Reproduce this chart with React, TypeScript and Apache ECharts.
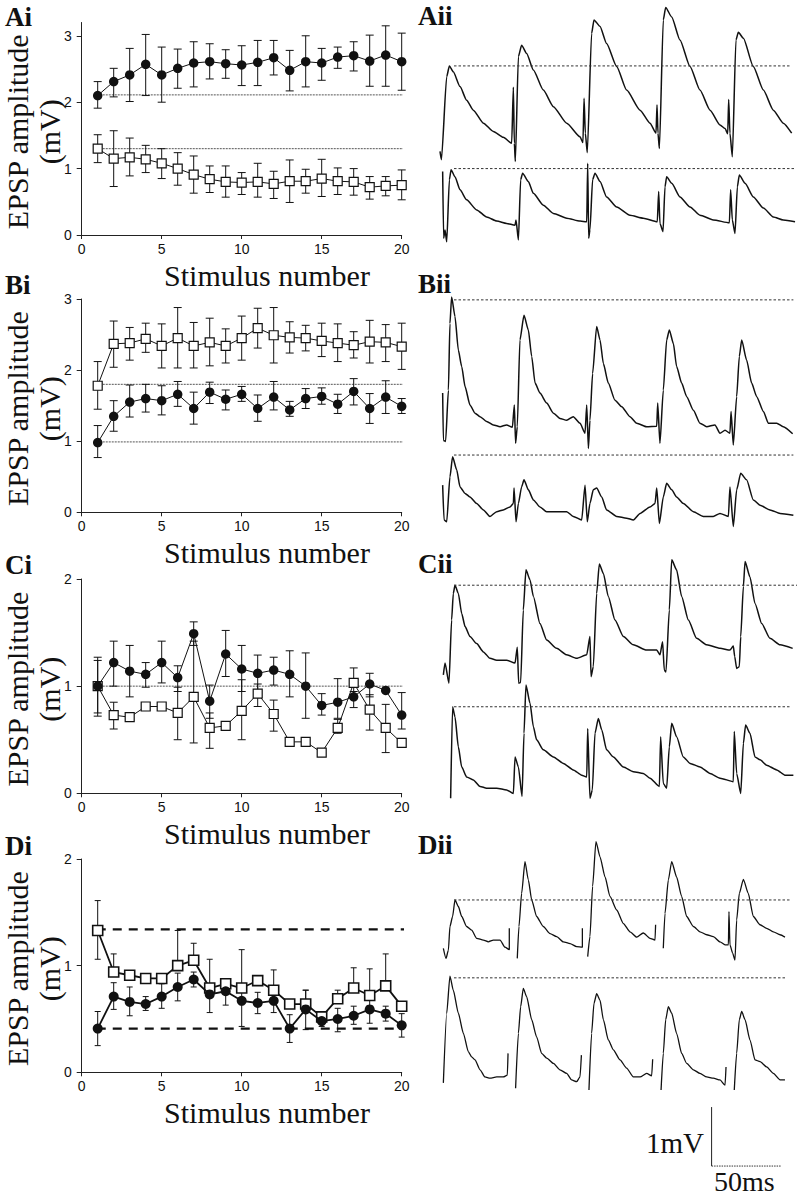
import React, { useEffect, useRef } from "react";
import * as echarts from "echarts";

// ---------- shared axis data ----------
const stimulusNumbers = [1, 2, 3, 4, 5, 6, 7, 8, 9, 10, 11, 12, 13, 14, 15, 16, 17, 18, 19, 20];
const xTickValues = [0, 5, 10, 15, 20];
const panelLabels = ["Ai", "Bi", "Ci", "Di"];
const traceLabels = ["Aii", "Bii", "Cii", "Dii"];
const xAxisTitle = "Stimulus number";
const yAxisTitle = ["EPSP amplitude", "(mV)"];

// ---------- Ai ----------
const aiFilled = [2.10, 2.31, 2.41, 2.57, 2.41, 2.51, 2.59, 2.61, 2.58, 2.56, 2.60, 2.67, 2.48, 2.61, 2.59, 2.68, 2.70, 2.62, 2.71, 2.61];
const aiFilledHi = [2.31, 2.51, 2.81, 3.02, 2.83, 2.80, 2.91, 2.88, 2.79, 2.85, 2.93, 2.93, 2.78, 3.00, 2.81, 2.83, 2.91, 3.01, 3.15, 3.04];
const aiFilledLo = [1.91, 2.08, 2.01, 2.10, 2.00, 2.21, 2.23, 2.35, 2.36, 2.25, 2.25, 2.41, 2.17, 2.23, 2.33, 2.51, 2.47, 2.24, 2.24, 2.18];
const aiOpen = [1.30, 1.15, 1.17, 1.14, 1.08, 1.00, 0.91, 0.84, 0.80, 0.79, 0.80, 0.77, 0.81, 0.81, 0.85, 0.81, 0.80, 0.72, 0.74, 0.75];
const aiOpenHi = [1.51, 1.57, 1.46, 1.35, 1.30, 1.24, 1.19, 1.04, 1.04, 0.94, 1.08, 0.96, 1.13, 0.99, 1.14, 1.01, 1.00, 0.88, 0.88, 0.98];
const aiOpenLo = [1.09, 0.73, 0.89, 0.94, 0.85, 0.75, 0.63, 0.64, 0.57, 0.61, 0.57, 0.55, 0.49, 0.63, 0.58, 0.61, 0.60, 0.54, 0.59, 0.53];
const aiRef = [2.11, 1.30];

// ---------- Bi ----------
const biOpen = [1.78, 2.37, 2.38, 2.44, 2.34, 2.45, 2.34, 2.39, 2.34, 2.45, 2.59, 2.49, 2.46, 2.45, 2.41, 2.38, 2.35, 2.40, 2.39, 2.33];
const biOpenHi = [2.12, 2.69, 2.60, 2.66, 2.65, 2.88, 2.67, 2.73, 2.58, 2.76, 2.87, 2.88, 2.68, 2.63, 2.66, 2.65, 2.54, 2.70, 2.64, 2.66];
const biOpenLo = [1.45, 2.04, 2.14, 2.25, 2.03, 2.03, 2.03, 2.06, 2.10, 2.14, 2.31, 2.10, 2.24, 2.27, 2.19, 2.12, 2.17, 2.10, 2.12, 2.01];
const biFilled = [0.98, 1.35, 1.55, 1.60, 1.57, 1.66, 1.46, 1.69, 1.59, 1.66, 1.46, 1.62, 1.44, 1.60, 1.63, 1.52, 1.70, 1.46, 1.62, 1.49];
const biFilledHi = [1.22, 1.57, 1.79, 1.80, 1.78, 1.84, 1.69, 1.83, 1.72, 1.77, 1.65, 1.84, 1.56, 1.74, 1.75, 1.66, 1.88, 1.67, 1.85, 1.60];
const biFilledLo = [0.77, 1.14, 1.34, 1.41, 1.37, 1.49, 1.24, 1.53, 1.44, 1.56, 1.28, 1.44, 1.35, 1.46, 1.52, 1.39, 1.51, 1.25, 1.39, 1.39];
const biRef = [1.80, 0.99];

// ---------- Ci ----------
const ciFilled = [1.00, 1.22, 1.14, 1.11, 1.22, 1.08, 1.49, 0.86, 1.30, 1.16, 1.12, 1.15, 1.11, 1.00, 0.82, 0.85, 0.90, 1.02, 0.96, 0.73];
const ciFilledHi = [1.27, 1.42, 1.38, 1.22, 1.42, 1.19, 1.60, 1.01, 1.52, 1.38, 1.29, 1.27, 1.33, 1.31, 0.93, 1.07, 0.95, 1.12, null, 0.94];
const ciFilledLo = [0.72, 1.00, 0.90, 0.99, 1.03, 0.95, 1.38, 0.70, 1.09, 0.95, 0.95, 1.01, 0.90, 0.70, 0.73, 0.70, 0.80, 0.90, null, 0.60];
const ciOpen = [1.00, 0.73, 0.71, 0.81, 0.81, 0.75, 0.90, 0.61, 0.63, 0.77, 0.93, 0.74, 0.48, 0.48, 0.38, 0.61, 1.03, 0.78, 0.61, 0.47];
const ciOpenHi = [1.24, 0.85, null, null, null, 0.99, 1.42, 0.75, null, 1.06, 1.02, 0.87, null, null, null, 0.69, 1.17, 0.92, 0.83, null];
const ciOpenLo = [0.75, 0.60, null, null, null, 0.50, 0.47, 0.42, null, 0.50, 0.81, 0.58, null, null, null, 0.56, 0.90, 0.59, 0.38, null];
const ciRef = [1.00];

// ---------- Di ----------
const diOpen = [1.33, 0.94, 0.91, 0.88, 0.88, 1.00, 1.05, 0.79, 0.83, 0.79, 0.86, 0.77, 0.64, 0.64, 0.52, 0.69, 0.79, 0.72, 0.81, 0.62];
const diOpenHi = [1.61, 1.11, null, null, null, 1.33, 1.21, 1.06, null, 1.15, null, 0.96, null, 0.77, null, 0.77, 0.98, 0.97, 1.11, null];
const diOpenLo = [1.06, null, null, null, null, null, null, null, null, null, null, null, null, null, null, null, null, null, null, null];
const diFilled = [0.41, 0.71, 0.66, 0.64, 0.71, 0.80, 0.87, 0.73, 0.76, 0.67, 0.65, 0.67, 0.41, 0.59, 0.48, 0.50, 0.53, 0.59, 0.55, 0.44];
const diFilledHi = [0.57, 0.84, 0.80, 0.71, 0.83, 0.93, 0.94, 0.83, 0.85, 0.80, 0.75, 0.77, 0.54, 0.77, 0.54, 0.60, 0.62, 0.70, 0.62, 0.55];
const diFilledLo = [0.25, 0.59, 0.53, 0.58, 0.60, 0.67, 0.80, 0.56, 0.63, 0.43, 0.55, 0.56, 0.28, 0.40, 0.43, 0.38, 0.45, 0.46, 0.48, 0.33];
const diRef = [1.34, 0.41];

// ---------- example traces: [time (ms), potential (mV)], null = gap ----------
type Pt = [number, number] | null;

const aiiTop: Pt[] = [[0, 1.67], [1, 1.53], [4.8, 2.94], [6.7, 3.12], [9.5, 3.02], [14.3, 2.77], [19, 2.54], [23.8, 2.37], [31, 2.15], [38.1, 2.01], [45.2, 1.91], [51.2, 1.81], [52.4, 2.76], [53.1, 1.81], [53.8, 1.5], [56, 3.28], [58.3, 3.47], [61.9, 3.33], [66.7, 3.05], [73.8, 2.71], [81, 2.43], [90.5, 2.15], [100, 1.92], [102.1, 1.82], [102.9, 2.57], [103.8, 1.98], [105.2, 1.65], [108.3, 3.67], [110, 3.9], [114.3, 3.79], [119, 3.5], [126.2, 3.11], [133.3, 2.71], [142.9, 2.37], [150, 2.15], [154.3, 1.98], [155, 2.46], [155.7, 1.98], [156.7, 1.72], [159.5, 3.9], [161.2, 4.11], [165.5, 3.95], [171.4, 3.56], [178.6, 3.11], [185.7, 2.71], [192.9, 2.37], [200, 2.12], [203.6, 2.06], [205.5, 1.97], [206.2, 2.55], [207.1, 1.98], [208.8, 1.58], [211.4, 3.56], [213.1, 3.69], [216.7, 3.59], [223.8, 3.11], [231, 2.71], [238.1, 2.37], [245.2, 2.15], [251.2, 1.98]];
const aiiBottom: Pt[] = [[1.9, 1.33], [2.6, 0.2], [3.6, 0.34], [4.8, 0.14], [6.7, 1.19], [7.9, 1.36], [10.7, 1.24], [14.3, 1.02], [19, 0.85], [26.2, 0.68], [33.3, 0.56], [40.5, 0.49], [47.6, 0.45], [53.6, 0.42], [54.3, 0.51], [56, 0.17], [57.6, 1.19], [59, 1.3], [63.1, 1.16], [66.7, 0.96], [73.8, 0.76], [81, 0.62], [90.5, 0.54], [100, 0.49], [104.8, 0.48], [105.5, 1.47], [106.2, 0.2], [107.1, 0.34], [109, 1.19], [110.7, 1.3], [114.3, 1.16], [119, 0.9], [126.2, 0.73], [135.7, 0.59], [145.2, 0.54], [155.2, 0.48], [156.2, 0.99], [157.1, 0.45], [159.3, 0.31], [160.7, 1.07], [161.9, 1.24], [165.5, 1.13], [171.4, 0.9], [178.6, 0.73], [185.7, 0.59], [195.2, 0.51], [206.7, 0.46], [207.6, 1.02], [208.8, 0.51], [210.7, 0.28], [212.4, 1.07], [213.8, 1.27], [217.9, 1.13], [223.8, 0.9], [231, 0.71], [238.1, 0.56], [245.2, 0.51], [253.6, 0.48]];
const aiiDash = [3.12, 1.38];
const aiiDashEnd = [250, 253];

const biiTop: Pt[] = [[1.9, 2.49], [2.4, 1.69], [4, 1.67], [6, 2.54], [7.1, 3.67], [8.3, 4.12], [10.7, 3.79], [13.1, 3.22], [15.5, 2.94], [17.9, 2.6], [21.4, 2.29], [25, 2.15], [28.6, 2.09], [33.3, 2.01], [38.1, 1.95], [42.9, 1.92], [47.6, 1.95], [51.7, 1.91], [53.1, 2.29], [54, 1.64], [55.2, 1.92], [57.1, 3.39], [60, 3.81], [63.1, 3.56], [65.5, 3.11], [67.9, 2.66], [71.4, 2.49], [76.2, 2.32], [81, 2.15], [85.7, 2.06], [90.5, 2.03], [95.2, 2.09], [100, 1.98], [103.6, 1.81], [104.8, 2.29], [106, 1.55], [107.1, 2.03], [109, 2.82], [111.9, 3.62], [114.3, 3.39], [116.7, 2.99], [120.2, 2.66], [125, 2.37], [129.8, 2.26], [135.7, 2.09], [140.5, 1.98], [147.6, 1.92], [154.8, 1.93], [155.5, 2.32], [157.1, 1.64], [159.5, 2.54], [161.9, 3.39], [163.8, 3.56], [166.7, 3.33], [169, 2.94], [172.6, 2.66], [176.2, 2.43], [181, 2.2], [185.7, 1.98], [190.5, 1.92], [196.4, 1.95], [200, 1.81], [203.6, 1.86], [207.1, 1.81], [207.9, 2.18], [209.5, 1.61], [211.9, 2.43], [213.8, 3.11], [215.5, 3.39], [219, 3.05], [222.6, 2.66], [226.2, 2.43], [231, 2.18], [234.5, 1.98], [240.5, 1.98], [245.2, 1.92], [251.9, 1.8]];
const biiBottom: Pt[] = [[1.9, 0.93], [2.9, 0.34], [4.8, 0.31], [7.1, 1.07], [9, 1.41], [11.9, 1.19], [14.3, 0.9], [17.9, 0.79], [21.4, 0.73], [26.2, 0.62], [31, 0.51], [35.7, 0.4], [40.5, 0.48], [45.2, 0.51], [50, 0.56], [52.4, 0.62], [52.9, 0.88], [54.3, 0.31], [56, 0.62], [58.3, 0.9], [60, 1.02], [63.1, 0.85], [66.7, 0.68], [71.4, 0.56], [76.2, 0.48], [83.3, 0.48], [90.5, 0.48], [95.2, 0.4], [101.2, 0.34], [103.6, 0.93], [105.2, 0.31], [107.1, 0.62], [109.5, 0.85], [111.9, 0.88], [115.5, 0.73], [119, 0.51], [126.2, 0.4], [133.3, 0.37], [138.1, 0.34], [142.9, 0.45], [150, 0.56], [153.6, 0.62], [154.8, 0.88], [156.7, 0.28], [159.5, 0.73], [161.9, 0.96], [165.5, 0.85], [169, 0.73], [173.8, 0.62], [181, 0.48], [188.1, 0.4], [195.2, 0.4], [200, 0.45], [206, 0.4], [207.1, 0.9], [209.5, 0.23], [211.9, 0.85], [214.8, 1.13], [219, 1.02], [223.8, 0.68], [228.6, 0.59], [235.7, 0.51], [242.9, 0.45], [252.4, 0.42]];
const biiDash = [4.07, 1.44];
const biiDashEnd = [252.4, 252.4];

const ciiTop: Pt[] = [[2.4, 2.29], [3.6, 2.49], [6.4, 2.15], [8.3, 3.22], [9.5, 3.67], [10.7, 3.81], [13.1, 3.67], [15.5, 3.33], [17.9, 3.11], [21.4, 2.94], [26.2, 2.82], [31, 2.68], [35.7, 2.57], [40.5, 2.54], [47.6, 2.54], [53.6, 2.49], [55.2, 2.76], [56.2, 2.15], [57.6, 2.16], [59.5, 3.39], [61.4, 4.07], [64.3, 3.9], [66.7, 3.62], [71.4, 3.16], [76.2, 2.88], [83.3, 2.74], [90.5, 2.63], [97.6, 2.57], [104.8, 2.63], [107.1, 2.94], [107.9, 2.26], [109.5, 2.43], [111.9, 3.67], [113.8, 4.17], [116.7, 4.01], [120.2, 3.62], [125, 3.22], [131, 2.94], [138.1, 2.8], [147.6, 2.71], [154.8, 2.71], [157.1, 2.63], [159, 2.85], [160.2, 2.37], [161.4, 2.34], [163.8, 3.39], [165.5, 4.24], [169, 4.07], [172.6, 3.62], [177.4, 3.22], [183.3, 2.91], [190.5, 2.8], [200, 2.74], [207.1, 2.71], [209.5, 2.78], [210.5, 2.6], [211.9, 2.4], [213.8, 2.43], [214.8, 2.94], [216.7, 3.79], [217.9, 4.21], [221.4, 3.95], [225, 3.5], [229.8, 3.16], [235.7, 2.91], [242.9, 2.8], [251.9, 2.74]];
const ciiBottom: Pt[] = [[7.6, 0.2], [9, 1.75], [10.7, 1.58], [13.1, 1.07], [15.5, 0.73], [19, 0.56], [23.8, 0.51], [28.6, 0.4], [33.3, 0.37], [40.5, 0.37], [47.6, 0.34], [52.4, 0.28], [53.6, 0.9], [56, 0.73], [58.6, 0.23], [60, 1.3], [61.4, 2.12], [64.3, 1.81], [66.7, 1.41], [69, 1.19], [73.8, 1.02], [81, 0.9], [88.1, 0.79], [95.2, 0.68], [101.2, 0.59], [104.8, 0.56], [105.5, 1.38], [107.1, 0.2], [108.8, 0.34], [110.7, 1.3], [113.1, 1.55], [115.5, 1.36], [119, 1.02], [123.8, 0.9], [131, 0.73], [138.1, 0.65], [145.2, 0.62], [150, 0.54], [156.7, 0.4], [157.6, 1.24], [159.5, 0.45], [161.9, 0.37], [163.8, 1.07], [165.5, 1.47], [169, 1.24], [173.8, 0.9], [178.6, 0.79], [185.7, 0.73], [192.9, 0.62], [200, 0.54], [209.5, 0.48], [210.2, 1.33], [211.9, 0.62], [214.8, 0.28], [216.7, 1.13], [218.3, 1.44], [221.4, 1.3], [225, 0.9], [228.6, 0.85], [233.3, 0.76], [240.5, 0.68], [246.4, 0.59], [252.4, 0.59]];
const ciiDash = [3.81, 1.75];
const ciiDashEnd = [255, 251];

const diiTop: Pt[] = [[2.4, 2.74], [4.3, 2.57], [6, 2.71], [7.1, 3.11], [9, 3.28], [10.7, 3.56], [13.1, 3.45], [15.5, 3.28], [19, 3.11], [22.6, 3.05], [26.2, 2.91], [31, 2.88], [34.5, 2.85], [38.1, 2.88], [42.9, 2.88], [46.4, 2.76], [49.5, 2.72], [49.5, 3.08], null, [55.2, 2.57], [56.4, 3.11], [58.3, 3.67], [60.7, 4.21], [63.1, 3.9], [65.5, 3.56], [69, 3.28], [73.8, 3.11], [78.6, 2.99], [83.3, 2.94], [88.1, 2.85], [92.9, 2.82], [97.6, 2.77], [101.7, 2.76], [101.7, 3.08], null, [105.5, 2.6], [107.1, 2.94], [109, 3.79], [111.4, 4.55], [114.3, 4.29], [117.9, 3.95], [121.4, 3.62], [126.2, 3.39], [131, 3.16], [135.7, 3.02], [140.5, 2.93], [145.2, 3.0], [150, 2.91], [153.6, 2.88], [154, 3.14], null, [159.5, 2.74], [160.7, 3.33], [163.1, 3.9], [165.5, 4.21], [169, 3.95], [172.6, 3.62], [176.2, 3.28], [181, 3.11], [185.7, 3.02], [190.5, 2.97], [195.2, 2.94], [200, 2.85], [203.6, 2.8], [206, 2.8], [206.4, 3.36], [207.1, 2.8], [209, 2.66], [210.7, 2.54], [211.9, 3.22], [213.8, 3.67], [216.7, 3.91], [220.2, 3.67], [223.8, 3.28], [228.6, 3.14], [233.3, 3.08], [238.1, 3.02], [242.9, 2.97], [246.4, 2.93]];
const diiBottom: Pt[] = [[2.4, 0.46], [4.8, 1.64], [7.1, 2.27], [9.5, 2.03], [13.1, 1.64], [16.7, 1.3], [20.2, 0.99], [22.6, 0.9], [25, 0.85], [28.6, 0.68], [32.1, 0.56], [35.7, 0.54], [40.5, 0.56], [45.2, 0.56], [48.1, 0.59], [48.6, 0.96], null, [54, 0.37], [56, 1.3], [57.6, 1.75], [59.5, 2.06], [61.9, 1.92], [65.5, 1.53], [69, 1.24], [72.6, 0.96], [76.2, 0.88], [81, 0.79], [85.7, 0.68], [90.5, 0.62], [94, 0.51], [97.6, 0.48], [100, 0.56], [101, 0.93], null, [106.4, 0.34], [108.3, 1.3], [110, 1.81], [111.9, 1.97], [114.3, 1.86], [116.7, 1.53], [120.2, 1.19], [123.8, 1.02], [128.6, 0.85], [133.3, 0.71], [138.1, 0.56], [142.9, 0.56], [147.6, 0.62], [151.2, 0.58], [151.9, 0.86], null, [157.9, 0.34], [159.5, 0.96], [161.2, 1.53], [163.1, 1.75], [165.5, 1.64], [169, 1.3], [172.6, 0.96], [176.2, 0.79], [181, 0.68], [185.7, 0.62], [190.5, 0.56], [195.2, 0.54], [200, 0.51], [203.6, 0.42], [204.3, 0.73], null, [210.2, 0.34], [211.9, 0.96], [213.8, 1.53], [215.5, 1.67], [217.9, 1.53], [221.4, 1.19], [225, 0.85], [228.6, 0.82], [233.3, 0.73], [238.1, 0.62], [242.9, 0.51], [246.4, 0.51]];
const diiDash = [3.56, 2.24];
const diiDashEnd = [250, 247.6];

const dashStart = 10;
const scaleBar = { ms: 50, mV: 1 };
const scaleBarLabels = ["1mV", "50ms"];

// ---------- rendering helpers ----------
const SERIF = '"Liberation Serif", "Times New Roman", serif';
const SANS = '"Liberation Sans", Arial, Helvetica, sans-serif';

const LEFT_X = 81.7;
const LEFT_W = 320;
const leftLayout = [
  { top: 22.5, height: 212.5, ymax: 3.2 },
  { top: 299, height: 213.3, ymax: 3 },
  { top: 579, height: 214.3, ymax: 2 },
  { top: 859, height: 213.3, ymax: 2 },
];
const leftPanels = [
  { filled: aiFilled, fHi: aiFilledHi, fLo: aiFilledLo, open: aiOpen, oHi: aiOpenHi, oLo: aiOpenLo, ref: aiRef },
  { filled: biFilled, fHi: biFilledHi, fLo: biFilledLo, open: biOpen, oHi: biOpenHi, oLo: biOpenLo, ref: biRef },
  { filled: ciFilled, fHi: ciFilledHi, fLo: ciFilledLo, open: ciOpen, oHi: ciOpenHi, oLo: ciOpenLo, ref: ciRef },
  { filled: diFilled, fHi: diFilledHi, fLo: diFilledLo, open: diOpen, oHi: diOpenHi, oLo: diOpenLo, ref: diRef },
];

const PX_PER_MS = 1.4;
const PX_PER_MV = 59;
const TRACE_X = 440;
const TRACE_TMAX = 255;
const rightPanels = [
  { top: aiiTop, bottom: aiiBottom, dash: aiiDash, dashEnd: aiiDashEnd, zeroPx: 250, ymin: 0, ymax: 4.2 },
  { top: biiTop, bottom: biiBottom, dash: biiDash, dashEnd: biiDashEnd, zeroPx: 540, ymin: 0, ymax: 4.2 },
  { top: ciiTop, bottom: ciiBottom, dash: ciiDash, dashEnd: ciiDashEnd, zeroPx: 810, ymin: 0, ymax: 4.3 },
  { top: diiTop, bottom: diiBottom, dash: diiDash, dashEnd: diiDashEnd, zeroPx: 1110, ymin: -1, ymax: 4.6 },
];

function errData(vals: number[], hi: (number | null)[], lo: (number | null)[]) {
  return stimulusNumbers.map((s, i) => [
    s,
    hi[i] == null ? vals[i] : (hi[i] as number),
    lo[i] == null ? vals[i] : (lo[i] as number),
    hi[i] == null ? 0 : 1,
    lo[i] == null ? 0 : 1,
  ]);
}

function errorSeries(idx: number, data: number[][], cap: number, width: number) {
  return {
    type: "custom",
    xAxisIndex: idx,
    yAxisIndex: idx,
    silent: true,
    z: 2,
    renderItem: (_p: any, api: any) => {
      const x = api.value(0);
      const pHi = api.coord([x, api.value(1)]);
      const pLo = api.coord([x, api.value(2)]);
      const st = { stroke: "#111", lineWidth: width };
      const children: any[] = [];
      if (Math.abs(pHi[1] - pLo[1]) > 0.5)
        children.push({ type: "line", shape: { x1: pHi[0], y1: pHi[1], x2: pLo[0], y2: pLo[1] }, style: st });
      if (api.value(3))
        children.push({ type: "line", shape: { x1: pHi[0] - cap, y1: pHi[1], x2: pHi[0] + cap, y2: pHi[1] }, style: st });
      if (api.value(4))
        children.push({ type: "line", shape: { x1: pLo[0] - cap, y1: pLo[1], x2: pLo[0] + cap, y2: pLo[1] }, style: st });
      return { type: "group", children };
    },
    data,
  };
}

function buildOption() {
  const grid: any[] = [];
  const xAxis: any[] = [];
  const yAxis: any[] = [];
  const series: any[] = [];
  const graphic: any[] = [];

  // Left panels
  leftPanels.forEach((p, i) => {
    const L = leftLayout[i];
    const isD = i === 3;
    grid.push({ left: LEFT_X, top: L.top, width: LEFT_W, height: L.height, containLabel: false });
    xAxis.push({
      type: "value",
      gridIndex: i,
      min: xTickValues[0],
      max: xTickValues[xTickValues.length - 1],
      interval: xTickValues[1] - xTickValues[0],
      axisLine: { show: true, lineStyle: { color: "#222", width: 1 } },
      axisTick: { show: true, length: 4, lineStyle: { color: "#222" } },
      axisLabel: { show: true, fontFamily: SANS, fontSize: 14, color: "#111", margin: 7 },
      splitLine: { show: false },
    });
    yAxis.push({
      type: "value",
      gridIndex: i,
      min: 0,
      max: L.ymax,
      interval: 1,
      showMaxLabel: L.ymax % 1 === 0,
      axisLine: { show: true, lineStyle: { color: "#222", width: 1 } },
      axisTick: { show: true, length: 5, lineStyle: { color: "#222" } },
      axisLabel: { show: true, fontFamily: SANS, fontSize: 14, color: "#111", margin: 10 },
      splitLine: { show: false },
    });

    // reference lines
    p.ref.forEach((v) => {
      series.push({
        type: "line",
        xAxisIndex: i,
        yAxisIndex: i,
        data: [[0.94, v], [20.3, v]],
        symbol: "none",
        silent: true,
        z: 1,
        lineStyle: isD
          ? { color: "#111", width: 2.2, type: [9, 7] }
          : { color: "#555", width: 1, type: [2, 1] },
      });
    });

    series.push(errorSeries(i, errData(p.open, p.oHi, p.oLo), isD ? 3 : 4, 1));
    series.push(errorSeries(i, errData(p.filled, p.fHi, p.fLo), isD ? 3 : 4, 1));

    series.push({
      type: "line",
      xAxisIndex: i,
      yAxisIndex: i,
      data: stimulusNumbers.map((s, j) => [s, p.open[j]]),
      symbol: "rect",
      symbolSize: isD ? 10 : 9,
      z: 3,
      lineStyle: { color: "#111", width: isD ? 1.8 : 1 },
      itemStyle: { color: "#fff", borderColor: "#111", borderWidth: isD ? 1.6 : 1.2 },
    });
    series.push({
      type: "line",
      xAxisIndex: i,
      yAxisIndex: i,
      data: stimulusNumbers.map((s, j) => [s, p.filled[j]]),
      symbol: "circle",
      symbolSize: isD ? 10 : 9.5,
      z: 4,
      lineStyle: { color: "#111", width: isD ? 1.8 : 1 },
      itemStyle: { color: "#111", borderColor: "#111", borderWidth: 0 },
    });

    // titles
    const cy = L.top + L.height / 2 + 3;
    graphic.push({
      type: "text",
      x: 17,
      y: cy,
      rotation: Math.PI / 2,
      style: { text: yAxisTitle[0], font: `30px ${SERIF}`, fill: "#111", align: "center", verticalAlign: "middle" },
    });
    graphic.push({
      type: "text",
      x: 49,
      y: cy,
      rotation: Math.PI / 2,
      style: { text: yAxisTitle[1], font: `30px ${SERIF}`, fill: "#111", align: "center", verticalAlign: "middle" },
    });
    graphic.push({
      type: "text",
      x: 267,
      y: L.top + L.height + 40,
      style: { text: xAxisTitle, font: `30px ${SERIF}`, fill: "#111", align: "center", verticalAlign: "middle" },
    });
  });

  // Right panels (traces)
  rightPanels.forEach((p, k) => {
    const gi = 4 + k;
    const top = p.zeroPx - p.ymax * PX_PER_MV;
    const height = (p.ymax - p.ymin) * PX_PER_MV;
    grid.push({ left: TRACE_X, top, width: TRACE_TMAX * PX_PER_MS, height });
    xAxis.push({ type: "value", gridIndex: gi, min: 0, max: TRACE_TMAX, show: false });
    yAxis.push({ type: "value", gridIndex: gi, min: p.ymin, max: p.ymax, show: false });
    [p.top, p.bottom].forEach((tr) => {
      series.push({
        type: "line",
        xAxisIndex: gi,
        yAxisIndex: gi,
        data: tr.map((d) => (d == null ? [null, null] : d)),
        symbol: "none",
        clip: false,
        connectNulls: false,
        smooth: 0.2,
        smoothMonotone: "x",
        silent: true,
        lineStyle: { color: "#111", width: k === 3 ? 1.3 : 1.5 },
      });
    });
    p.dash.forEach((v, j) => {
      series.push({
        type: "line",
        xAxisIndex: gi,
        yAxisIndex: gi,
        data: [[dashStart, v], [p.dashEnd[j], v]],
        symbol: "none",
        clip: false,
        silent: true,
        lineStyle: { color: "#333", width: 1, type: [2.5, 2] },
      });
    });
    if (k === 3) {
      const t0 = 194;
      const v0 = -0.95;
      series.push({
        type: "line",
        xAxisIndex: gi,
        yAxisIndex: gi,
        data: [[t0, v0 + scaleBar.mV], [t0, v0]],
        symbol: "none",
        clip: false,
        silent: true,
        lineStyle: { color: "#222", width: 1 },
      });
      series.push({
        type: "line",
        xAxisIndex: gi,
        yAxisIndex: gi,
        data: [[t0, v0], [t0 + scaleBar.ms, v0]],
        symbol: "none",
        clip: false,
        silent: true,
        lineStyle: { color: "#333", width: 1, type: [1.5, 1] },
      });
    }
  });

  // panel labels
  const labelY = [16.5, 285, 564.5, 846];
  panelLabels.forEach((t, i) => {
    graphic.push({
      type: "text",
      x: 5,
      y: labelY[i],
      style: { text: t, font: `bold 27px ${SERIF}`, fill: "#111", align: "left", verticalAlign: "middle" },
    });
  });
  traceLabels.forEach((t, i) => {
    graphic.push({
      type: "text",
      x: 418,
      y: labelY[i] - 1,
      style: { text: t, font: `bold 27px ${SERIF}`, fill: "#111", align: "left", verticalAlign: "middle" },
    });
  });
  graphic.push({
    type: "text",
    x: 704,
    y: 1143,
    style: { text: scaleBarLabels[0], font: `29px ${SERIF}`, fill: "#111", align: "right", verticalAlign: "middle" },
  });
  graphic.push({
    type: "text",
    x: 714,
    y: 1181,
    style: { text: scaleBarLabels[1], font: `28px ${SERIF}`, fill: "#111", align: "left", verticalAlign: "middle" },
  });

  return {
    animation: false,
    backgroundColor: "#ffffff",
    grid,
    xAxis,
    yAxis,
    series,
    graphic,
  };
}

export default function App() {
  const ref = useRef<HTMLDivElement | null>(null);
  useEffect(() => {
    if (!ref.current) return;
    const chart = echarts.init(ref.current, undefined, { renderer: "svg" });
    chart.setOption(buildOption() as any);
    return () => chart.dispose();
  }, []);
  return (
    <div
      ref={ref}
      style={{ position: "absolute", left: 0, top: 0, width: 798, height: 1199, background: "#fff" }}
    />
  );
}
